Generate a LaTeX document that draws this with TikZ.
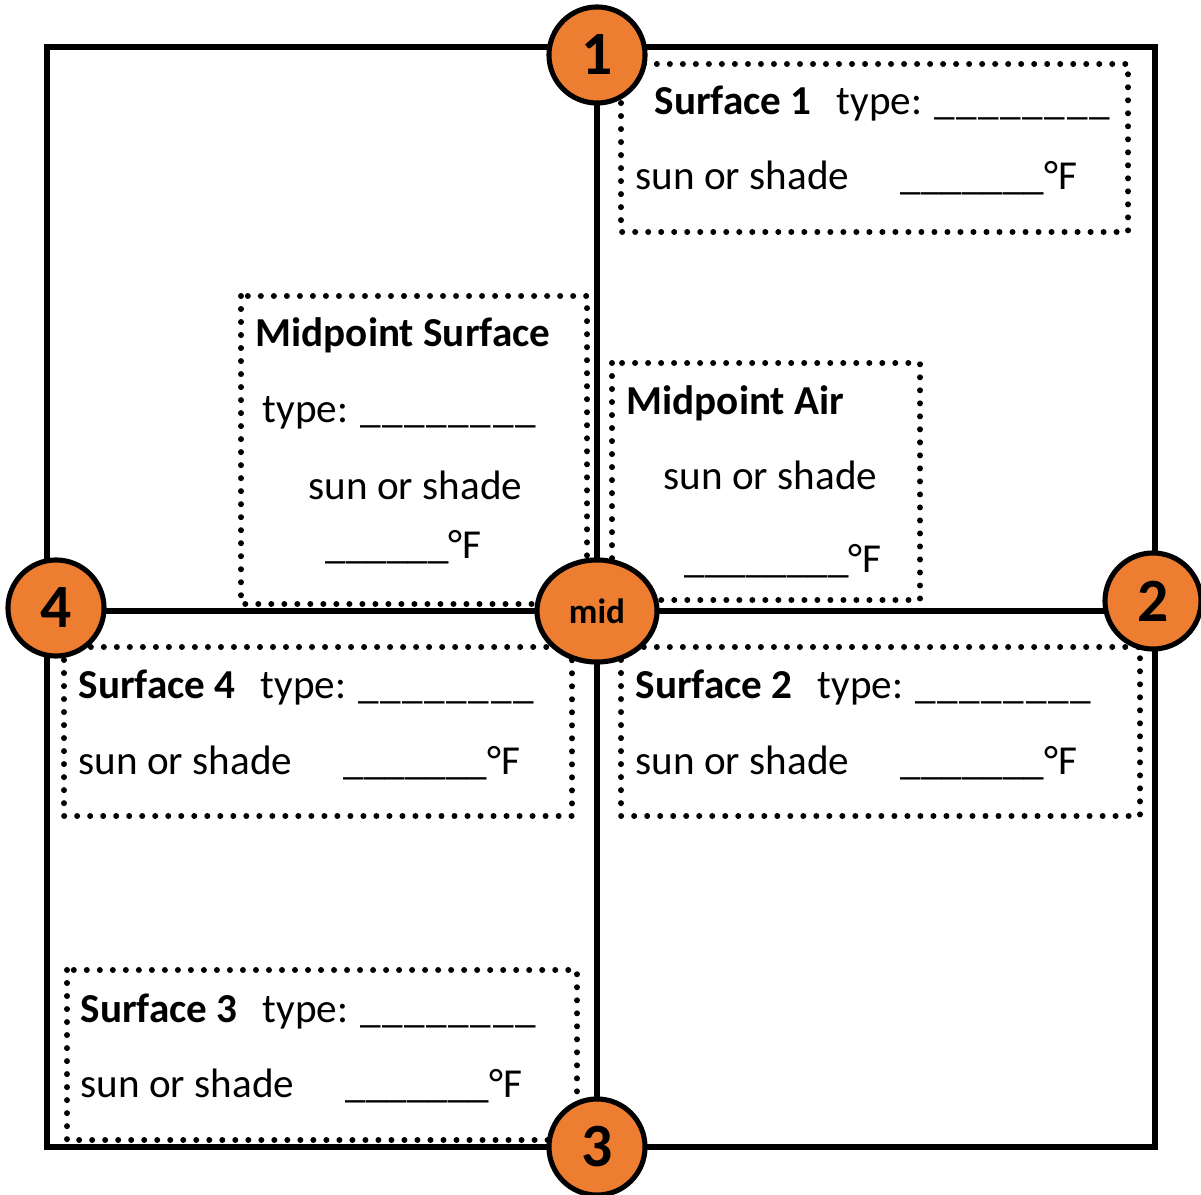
\documentclass[tikz,border=0pt]{standalone}
\usepackage{fontspec}
\setmainfont{Carlito}
\usetikzlibrary{shapes.geometric}
\definecolor{tOrange}{HTML}{ED7D31}
\newcommand\bl{\_\kern0.45pt}

\begin{document}
\begin{tikzpicture}[x=0.01cm, y=-0.01cm,
	frame/.style={line width=1.45pt},
	spot/.style={circle, draw, line width=1.45pt, fill=tOrange, inner sep=0pt, minimum size=0.96cm, font=\fontsize{17.5}{20}\selectfont\bfseries},
	dotbox/.style={line width=1.7pt, dash pattern=on 0pt off 3.7pt, line cap=round},
	txt/.style={anchor=base west, inner sep=0pt, font=\fontsize{11.7}{14}\selectfont}]
			\useasboundingbox (0,0) rectangle (1201,1195);
			
			% centres of the markers
			\coordinate (c1) at (597,55);
			\coordinate (c2) at (1153,601);
			\coordinate (c3) at (597,1147);
			\coordinate (c4) at (56,608);
			\coordinate (cm) at (597,611);
			
			\draw[frame] (47,47) rectangle (1155,1147);
			\draw[frame] (c1) -- (c3);
			\draw[frame] (c4 |- cm) -- (cm) -- (c2 |- cm);
			
			% dotted boxes
			\draw[dotbox] (621,64) rectangle (1128,232);
			\draw[dotbox] (621,647) rectangle (1140,816);
			\draw[dotbox] (64,647) rectangle (572,816);
			\draw[dotbox] (67,970) rectangle (577,1140);
			\draw[dotbox] (241,296) rectangle (587,604);
			\draw[dotbox] (612,363) rectangle (920,600);
			
			\node[txt] (s1a) at (654,115) {\textbf{Surface 1}};
			\node[txt] (s1b) at (836,115) {type: \bl\bl\bl\bl\bl\bl\bl\bl};
			\node[txt] (s1c) at (635,190) {sun or shade};
			\node[txt] (s1d) at (900,190) {\_\_\_\_\_\_\_°F};
			
			\node[txt] (s2a) at (635,698) {\textbf{Surface 2}};
			\node[txt] (s2b) at (817,698) {type: \bl\bl\bl\bl\bl\bl\bl\bl};
			\node[txt] (s2c) at (635,774) {sun or shade};
			\node[txt] (s2d) at (900,774) {\_\_\_\_\_\_\_°F};
			
			\node[txt] (s4a) at (78,698) {\textbf{Surface 4}};
			\node[txt] (s4b) at (260,698) {type: \bl\bl\bl\bl\bl\bl\bl\bl};
			\node[txt] (s4c) at (78,774) {sun or shade};
			\node[txt] (s4d) at (343,774) {\_\_\_\_\_\_\_°F};
			
			\node[txt] (s3a) at (80,1022) {\textbf{Surface 3}};
			\node[txt] (s3b) at (262,1022) {type: \bl\bl\bl\bl\bl\bl\bl\bl};
			\node[txt] (s3c) at (80,1097) {sun or shade};
			\node[txt] (s3d) at (345,1097) {\_\_\_\_\_\_\_°F};
			
			\node[txt] (msa) at (255,347) {\textbf{Midpoint Surface}};
			\node[txt] (msb) at (262,423) {type: \bl\bl\bl\bl\bl\bl\bl\bl};
			\node[txt] (msc) at (308,500) {sun or shade};
			\node[txt] (msd) at (325,558) {\_\_\_\_\_\_°F};
			
			\node[txt] (maa) at (626,415) {\textbf{Midpoint Air}};
			\node[txt] (mab) at (663,490) {sun or shade};
			\node[txt] (mac) at (684,573) {\_\_\_\_\_\_\_\_°F};
			
			% markers
			\node[spot] (n1) at (c1) {1};
			\node[spot] (n2) at (c2) {2};
			\node[spot] (n3) at (c3) {3};
			\node[spot] (n4) at (c4) {4};
			\node[spot, ellipse, minimum width=1.2cm, minimum height=1.02cm, font=\fontsize{10}{12}\selectfont\bfseries] (nm) at (cm) {mid};
		\end{tikzpicture}
\end{document}
